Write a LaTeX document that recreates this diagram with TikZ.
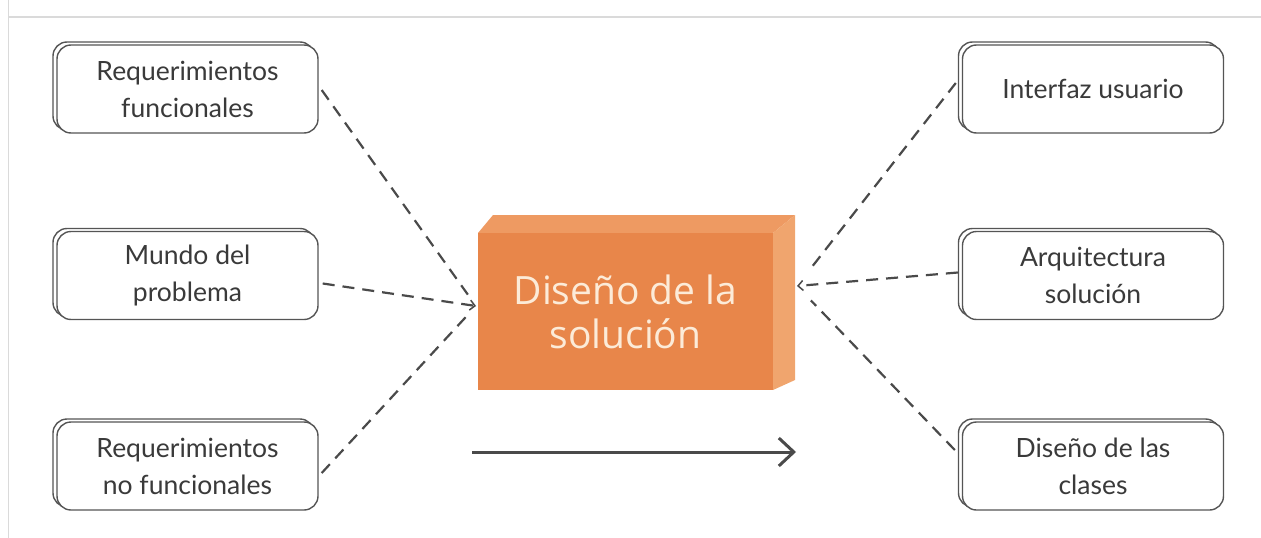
\documentclass[tikz,border=0pt]{standalone}
\usepackage{fontspec}
\setmainfont{Open Sans}
\newfontfamily\boxfont{Lato}
\usetikzlibrary{shadows,arrows.meta,calc}
\definecolor{boxc}{HTML}{555555}
\definecolor{txtc}{HTML}{3A3A3A}
\definecolor{dashc}{HTML}{4A4A4A}
\definecolor{frontc}{HTML}{E8864A}
\definecolor{topc}{HTML}{EE9A62}
\definecolor{sidec}{HTML}{F0A56E}
\definecolor{creamc}{HTML}{FCEBD8}
\definecolor{framec}{HTML}{DADADA}
\tikzset{
  box/.style={draw=boxc, line width=1.4pt, rounded corners=14pt, fill=white,
    minimum width=261pt, minimum height=88pt, align=center, inner sep=0pt,
    text=txtc, font=\boxfont\fontsize{26.5}{37}\selectfont,
    copy shadow={shadow xshift=-4pt, shadow yshift=3pt, draw=boxc, fill=white}},
  link/.style={draw=dashc, line width=2.2pt, dash pattern=on 12pt off 8pt},
  tip/.style={-{Straight Barb[length=5pt,width=10pt,line width=1.5pt]}},
}
\begin{document}
\begin{tikzpicture}[x=1pt,y=-1pt]
\useasboundingbox (0,0) rectangle (1261,538);
% frame
\draw[framec, line width=2pt] (8,17) -- (1261,17);
\draw[framec, line width=1pt] (8,0) -- (8,538);

% left boxes
\node[box] (L1) at (187.5,89) {Requerimientos\\funcionales};
\node[box] (L2) at (187.5,275.5) {Mundo del\\problema};
\node[box] (L3) at (187.5,466) {Requerimientos\\no funcionales};
% right boxes
\node[box] (R1) at (1093,89) {Interfaz usuario};
\node[box] (R2) at (1093,275.5) {Arquitectura\\solución};
\node[box] (R3) at (1093,466) {Diseño de las\\clases};

% central 3D block
\fill[topc] (478,233) -- (493,215) -- (795,215) -- (773,233) -- cycle;
\fill[sidec] (773,233) -- (795,215) -- (795,380) -- (773,390) -- cycle;
\node[fill=frontc, minimum width=295pt, minimum height=157pt, inner sep=0pt,
      align=center, text=creamc, font=\fontsize{39}{44}\selectfont] (C) at (625.5,311.5)
      {Diseño de la\\solución};

\coordinate (cL) at (476,306);
\coordinate (cR) at (797,286);

% dashed connectors
\draw[link, shorten >=14pt] ($(L1.east)+(3,1)$) -- (cL);
\draw[link, tip] ($(L2.east)+(4,8)$) -- (cL);
\draw[link, shorten >=14pt] ($(L3.east)+(3,7)$) -- (cL);
\draw[link, shorten >=20pt] ($(R1.west)+(-6,-6)$) -- (cR);
\draw[link, tip] ($(R2.west)+(-4,-3)$) -- (cR);
\draw[link, shorten >=20pt] ($(R3.west)+(-7,-16)$) -- (cR);

% bottom arrow
\coordinate (a1) at (472,452);
\coordinate (a2) at (796,452);
\draw[draw=dashc, line width=3pt, -{Straight Barb[length=15pt,width=28pt,line width=3pt]}] (a1) -- (a2);
\end{tikzpicture}
\end{document}
